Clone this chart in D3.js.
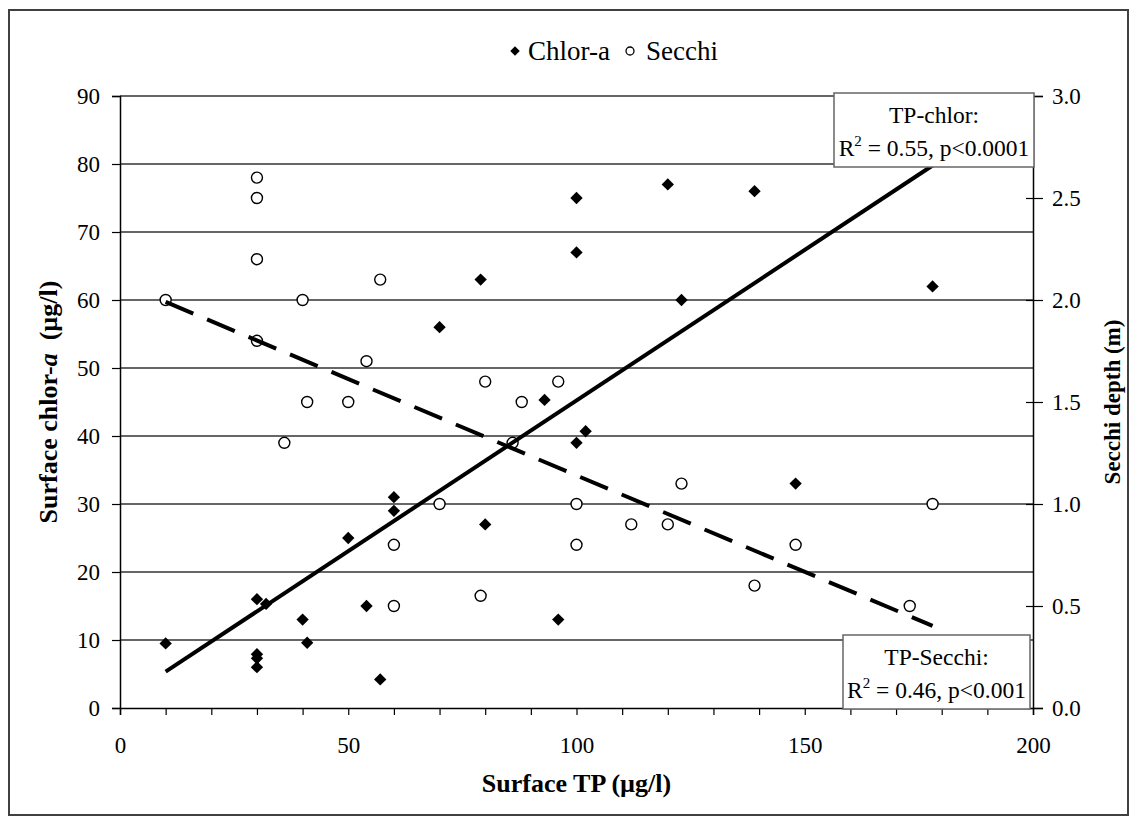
<!DOCTYPE html>
<html>
<head>
<meta charset="utf-8">
<script src="https://cdn.jsdelivr.net/npm/d3@7"></script>
<style>
  body { margin: 0; background: #fff; }
  svg text { font-family: "Liberation Serif", "Times New Roman", serif !important; fill: #000; }
</style>
</head>
<body>
<svg width="1136" height="823"></svg>
<script>
// chlor-a points (TP, chlor)
var chlorTP  = [10, 30, 30, 30, 30, 32, 40, 41, 50, 54, 57, 60, 60, 70, 79, 80, 93, 96, 100, 100, 100, 102, 120, 123, 139, 148, 178];
var chlorVal = [9.5, 16, 7.9, 7.3, 6.0, 15.3, 13, 9.6, 25, 15, 4.2, 31, 29, 56, 63, 27, 45.3, 13, 75, 67, 39, 40.7, 77, 60, 76, 33, 62];

// secchi points (TP, depth)
var secchiTP  = [10, 30, 30, 30, 30, 36, 40, 41, 50, 54, 57, 60, 60, 70, 79, 80, 86, 88, 96, 100, 100, 112, 120, 123, 139, 148, 173, 178];
var secchiVal = [2.0, 2.6, 2.5, 2.2, 1.8, 1.3, 2.0, 1.5, 1.5, 1.7, 2.1, 0.8, 0.5, 1.0, 0.55, 1.6, 1.3, 1.5, 1.6, 1.0, 0.8, 0.9, 0.9, 1.1, 0.6, 0.8, 0.5, 1.0];

// fitted lines, [intercept, slope], over TP range
var chlorFit  = [0.92, 0.443];
var secchiFit = [2.085, -0.00945];
var fitRange  = [10, 178];

var xTicks  = d3.range(0, 201, 10);
var yTicks  = d3.range(0, 91, 10);
var y2Ticks = d3.range(0, 3.01, 0.5);

function drawChart() {

var svg = d3.select("svg");
var mLeft = 120, mRight = 1033, mTop = 96, mBottom = 708;

var x  = d3.scaleLinear().domain([0, 200]).range([mLeft, mRight]);
var y  = d3.scaleLinear().domain([0, 90]).range([mBottom, mTop]);
var y2 = d3.scaleLinear().domain([0, 3]).range([mBottom, mTop]);

// outer frame
svg.append("rect")
    .attr("x", 9).attr("y", 10).attr("width", 1119).attr("height", 805)
    .attr("fill", "#fff").attr("stroke", "#404040").attr("stroke-width", 2);

// gridlines
svg.append("g").selectAll("line")
  .data(yTicks.filter(function(d) { return d > 0; }))
  .enter().append("line")
    .attr("x1", mLeft).attr("x2", mRight)
    .attr("y1", function(d) { return y(d); })
    .attr("y2", function(d) { return y(d); })
    .attr("stroke", "#333").attr("stroke-width", 1.3);

// axes
var gx = svg.append("g")
    .attr("transform", "translate(0," + mBottom + ")")
    .call(d3.axisBottom(x).tickValues(xTicks)
      .tickFormat(function(d) { return d % 50 === 0 ? d : ""; })
      .tickSize(7).tickPadding(22));

var gy = svg.append("g")
    .attr("transform", "translate(" + mLeft + ",0)")
    .call(d3.axisLeft(y).tickValues(yTicks).tickSize(8).tickPadding(12));

var gy2 = svg.append("g")
    .attr("transform", "translate(" + mRight + ",0)")
    .call(d3.axisRight(y2).tickValues(y2Ticks).tickFormat(d3.format(".1f"))
      .tickSize(10).tickPadding(9));
gy2.selectAll(".tick line").attr("x1", -7);

[gx, gy, gy2].forEach(function(g) {
  g.attr("font-family", null);
  g.select(".domain").attr("stroke", "#000").attr("stroke-width", 1.5);
  g.selectAll(".tick line").attr("stroke", "#000").attr("stroke-width", 1.2);
  g.selectAll(".tick text").attr("font-size", 23);
});

// axis titles
svg.append("text")
    .attr("x", (mLeft + mRight) / 2).attr("y", 792)
    .attr("text-anchor", "middle").attr("font-size", 26).attr("font-weight", "bold")
    .text("Surface TP (µg/l)");

var yt = svg.append("text")
    .attr("transform", "translate(57," + ((mTop + mBottom) / 2) + ") rotate(-90)")
    .attr("text-anchor", "middle").attr("font-size", 26).attr("font-weight", "bold");
yt.append("tspan").text("Surface chlor-");
yt.append("tspan").attr("font-style", "italic").text("a");
yt.append("tspan").attr("xml:space", "preserve").text("  (µg/l)");

svg.append("text")
    .attr("transform", "translate(1120," + ((mTop + mBottom) / 2) + ") rotate(-90)")
    .attr("text-anchor", "middle").attr("font-size", 23).attr("font-weight", "bold")
    .text("Secchi depth (m)");

var diamond = d3.symbol().type(d3.symbolSquare).size(76);
var circle = d3.symbol().type(d3.symbolCircle).size(95);

// points
svg.append("g").selectAll("path")
  .data(chlorTP.map(function(t, i) { return [t, chlorVal[i]]; }))
  .enter().append("path")
    .attr("d", diamond)
    .attr("transform", function(d) { return "translate(" + x(d[0]) + "," + y(d[1]) + ") rotate(45)"; })
    .attr("fill", "#000");

svg.append("g").selectAll("path")
  .data(secchiTP.map(function(t, i) { return [t, secchiVal[i]]; }))
  .enter().append("path")
    .attr("d", circle)
    .attr("transform", function(d) { return "translate(" + x(d[0]) + "," + y2(d[1]) + ")"; })
    .attr("fill", "#fff").attr("stroke", "#000").attr("stroke-width", 1.4);

// fit lines
svg.append("line")
    .attr("x1", x(fitRange[0])).attr("y1", y(chlorFit[0] + chlorFit[1] * fitRange[0]))
    .attr("x2", x(fitRange[1])).attr("y2", y(chlorFit[0] + chlorFit[1] * fitRange[1]))
    .attr("stroke", "#000").attr("stroke-width", 4);

svg.append("line")
    .attr("x1", x(fitRange[0])).attr("y1", y2(secchiFit[0] + secchiFit[1] * fitRange[0]))
    .attr("x2", x(fitRange[1])).attr("y2", y2(secchiFit[0] + secchiFit[1] * fitRange[1]))
    .attr("stroke", "#000").attr("stroke-width", 4)
    .attr("stroke-dasharray", "30,15");

// stat boxes
function statBox(bx, by, bw, bh, title, r2, p) {
  var g = svg.append("g");
  g.append("rect").attr("x", bx).attr("y", by).attr("width", bw).attr("height", bh)
    .attr("fill", "#fff").attr("stroke", "#666").attr("stroke-width", 1.5);
  g.append("text").attr("x", bx + bw / 2).attr("y", by + 30)
    .attr("text-anchor", "middle").attr("font-size", 23.5).text(title);
  var t = g.append("text").attr("x", bx + bw / 2).attr("y", by + 63)
    .attr("text-anchor", "middle").attr("font-size", 23.5);
  t.append("tspan").text("R");
  t.append("tspan").attr("font-size", 15).attr("dy", -10).text("2");
  t.append("tspan").attr("dy", 10).text(" = " + r2 + ", p<" + p);
}
statBox(834, 93, 200, 74, "TP-chlor:", "0.55", "0.0001");
statBox(843, 635, 187, 74, "TP-Secchi:", "0.46", "0.001");

// legend
var lg = svg.append("g").attr("transform", "translate(515,51)");
lg.append("path").attr("d", d3.symbol().type(d3.symbolSquare).size(45))
  .attr("transform", "rotate(45)").attr("fill", "#000");
lg.append("text").attr("x", 13).attr("y", 9).attr("font-size", 27).text("Chlor-a");
lg.append("path").attr("d", d3.symbol().type(d3.symbolCircle).size(50))
  .attr("transform", "translate(115,0)")
  .attr("fill", "#fff").attr("stroke", "#000").attr("stroke-width", 1.3);
lg.append("text").attr("x", 131).attr("y", 9).attr("font-size", 27).text("Secchi");
}
drawChart();
</script>
</body>
</html>
